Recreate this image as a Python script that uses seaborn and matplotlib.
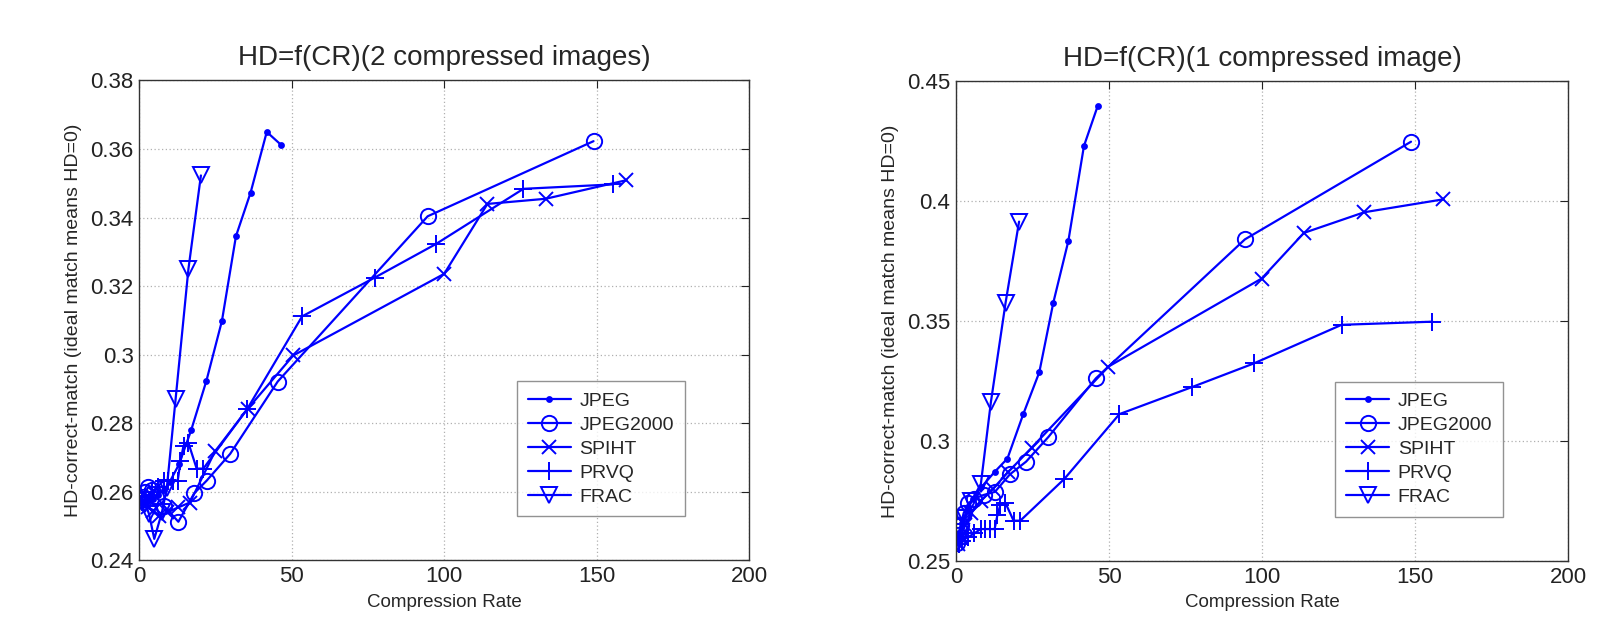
import matplotlib
matplotlib.use("Agg")
import matplotlib.pyplot as plt
import seaborn as sns
from matplotlib.ticker import FuncFormatter

# ---------------- data ----------------
titles = ["HD=f(CR)(2 compressed images)", "HD=f(CR)(1 compressed image)"]
series_names = ["JPEG", "JPEG2000", "SPIHT", "PRVQ", "FRAC"]

# left panel (2 compressed images)
jpeg_cr_2 = [46.4, 41.8, 36.5, 31.7, 27.1, 22.0, 17.0, 13.0, 10.0, 8.0, 6.0, 4.5, 3.0, 2.0, 1.2, 0.6]
jpeg_hd_2 = [0.3613, 0.3650, 0.3473, 0.3346, 0.3099, 0.2924, 0.2780, 0.2680, 0.2630, 0.2605, 0.2590,
             0.2580, 0.2575, 0.2572, 0.2570, 0.2570]
j2k_cr_2 = [149.0, 94.6, 45.4, 29.8, 22.1, 18.0, 12.8, 8.0, 5.5, 4.0, 3.0, 2.0, 1.2, 0.6]
j2k_hd_2 = [0.3623, 0.3404, 0.2922, 0.2711, 0.2633, 0.2596, 0.2513, 0.2560, 0.2585, 0.2605, 0.2615,
            0.2600, 0.2585, 0.2575]
spiht_cr_2 = [159.7, 133.3, 114.2, 100.0, 50.5, 35.5, 24.8, 16.6, 12.8, 9.0, 6.5, 4.5, 3.0, 1.8, 0.8]
spiht_hd_2 = [0.3509, 0.3455, 0.3440, 0.3236, 0.2998, 0.2842, 0.2718, 0.2569, 0.2555, 0.2540, 0.2530,
              0.2545, 0.2555, 0.2565, 0.2572]
frac_cr_2 = [20.2, 16.1, 11.9, 9.0, 7.4, 4.9, 3.2, 2.0, 1.0]
frac_hd_2 = [0.3523, 0.3250, 0.2871, 0.2610, 0.2540, 0.2463, 0.2535, 0.2565, 0.2575]

# PRVQ (same curve in both panels)
prvq_cr = [155.5, 126.0, 97.3, 77.2, 53.4, 35.4, 21.0, 18.8, 16.1, 14.5, 13.5, 12.6, 11.0, 9.5, 8.0,
           6.0, 4.0, 2.0, 1.0]
prvq_hd = [0.3497, 0.3484, 0.3323, 0.3225, 0.3112, 0.2842, 0.2668, 0.2668, 0.2743, 0.2735, 0.2690,
           0.2633, 0.2633, 0.2633, 0.2633, 0.2615, 0.2600, 0.2585, 0.2572]

# right panel (1 compressed image)
jpeg_cr_1 = [46.3, 41.8, 36.7, 31.8, 27.2, 22.0, 16.8, 12.6, 8.3, 5.5, 3.5, 2.0, 1.0, 0.5]
jpeg_hd_1 = [0.4396, 0.4229, 0.3833, 0.3577, 0.3286, 0.3113, 0.2927, 0.2871, 0.2808, 0.2760, 0.2710,
             0.2660, 0.2610, 0.2575]
j2k_cr_1 = [148.7, 94.4, 45.7, 30.2, 22.9, 17.6, 12.7, 9.0, 6.0, 4.0, 2.5, 1.5, 0.8, 0.3]
j2k_hd_1 = [0.4247, 0.3840, 0.3261, 0.3017, 0.2914, 0.2861, 0.2788, 0.2775, 0.2760, 0.2740, 0.2700,
            0.2650, 0.2610, 0.2575]
spiht_cr_1 = [159.3, 133.4, 113.7, 99.9, 49.8, 24.7, 17.0, 12.0, 8.0, 5.0, 3.0, 1.5, 0.5]
spiht_hd_1 = [0.4007, 0.3953, 0.3867, 0.3677, 0.3310, 0.2972, 0.2870, 0.2800, 0.2750, 0.2700, 0.2650,
              0.2600, 0.2570]
frac_cr_1 = [20.6, 16.2, 11.4, 8.1, 5.0, 3.0, 1.5, 0.5]
frac_hd_1 = [0.3914, 0.3577, 0.3163, 0.2820, 0.2750, 0.2680, 0.2620, 0.2580]

x_ticks = [0, 50, 100, 150, 200]
y_ticks_2 = [0.24, 0.26, 0.28, 0.30, 0.32, 0.34, 0.36, 0.38]
y_ticks_1 = [0.25, 0.30, 0.35, 0.40, 0.45]

# ---------------- style ----------------
sns.set_theme(style="white")
plt.rcParams["font.family"] = ["Liberation Sans", "DejaVu Sans"]

BLUE = (0, 0, 1)
styles = {
    "JPEG": dict(marker="o", markersize=3.5, markerfacecolor=BLUE),
    "JPEG2000": dict(marker="o", markersize=11, markerfacecolor="none"),
    "SPIHT": dict(marker="x", markersize=10),
    "PRVQ": dict(marker="+", markersize=13),
    "FRAC": dict(marker="v", markersize=11, markerfacecolor="none"),
}

fig = plt.figure(figsize=(16.24, 6.22), dpi=100)
ax_l = fig.add_axes([0.0858, 0.0989, 0.3754, 0.7717])
ax_r = fig.add_axes([0.5887, 0.0981, 0.3768, 0.7717])

panels = [
    (ax_l, [(jpeg_cr_2, jpeg_hd_2), (j2k_cr_2, j2k_hd_2), (spiht_cr_2, spiht_hd_2),
            (prvq_cr, prvq_hd), (frac_cr_2, frac_hd_2)], y_ticks_2, titles[0]),
    (ax_r, [(jpeg_cr_1, jpeg_hd_1), (j2k_cr_1, j2k_hd_1), (spiht_cr_1, spiht_hd_1),
            (prvq_cr, prvq_hd), (frac_cr_1, frac_hd_1)], y_ticks_1, titles[1]),
]

fmt = FuncFormatter(lambda v, p: "%g" % round(v, 4))

for ax, data, yt, title in panels:
    for name, (xs, ys) in zip(series_names, data):
        st = styles[name]
        sns.lineplot(x=xs, y=ys, sort=False, estimator=None, ax=ax, color=BLUE,
                     linewidth=1.6, label=name, markeredgecolor=BLUE,
                     markeredgewidth=1.4, **st)
    ax.set_xlim(x_ticks[0], x_ticks[-1])
    ax.set_ylim(yt[0], yt[-1])
    ax.set_xticks(x_ticks)
    ax.set_yticks(yt)
    ax.yaxis.set_major_formatter(fmt)
    ax.grid(True, linestyle=(0, (1, 2)), color="#b0b0b0", linewidth=0.9)
    ax.set_axisbelow(True)
    ax.tick_params(direction="in", top=True, right=True, length=6, width=0.8,
                   labelsize=16, colors="#222222", pad=4)
    for sp in ax.spines.values():
        sp.set_color("#333333")
        sp.set_linewidth(1.0)
    ax.set_title(title, fontsize=20, pad=11)
    ax.set_xlabel("Compression Rate", fontsize=13.5, labelpad=5)
    ax.set_ylabel("HD-correct-match (ideal match means HD=0)", fontsize=14, labelpad=6)
    leg = ax.legend(loc="lower left", bbox_to_anchor=(0.62, 0.092), frameon=True,
                    fancybox=False, fontsize=14, handlelength=2.2, borderpad=0.55,
                    labelspacing=0.33, handletextpad=0.45, borderaxespad=0)
    leg.get_frame().set_edgecolor("#777777")
    leg.get_frame().set_linewidth(1.0)

fig.savefig("out.png", dpi=100)
